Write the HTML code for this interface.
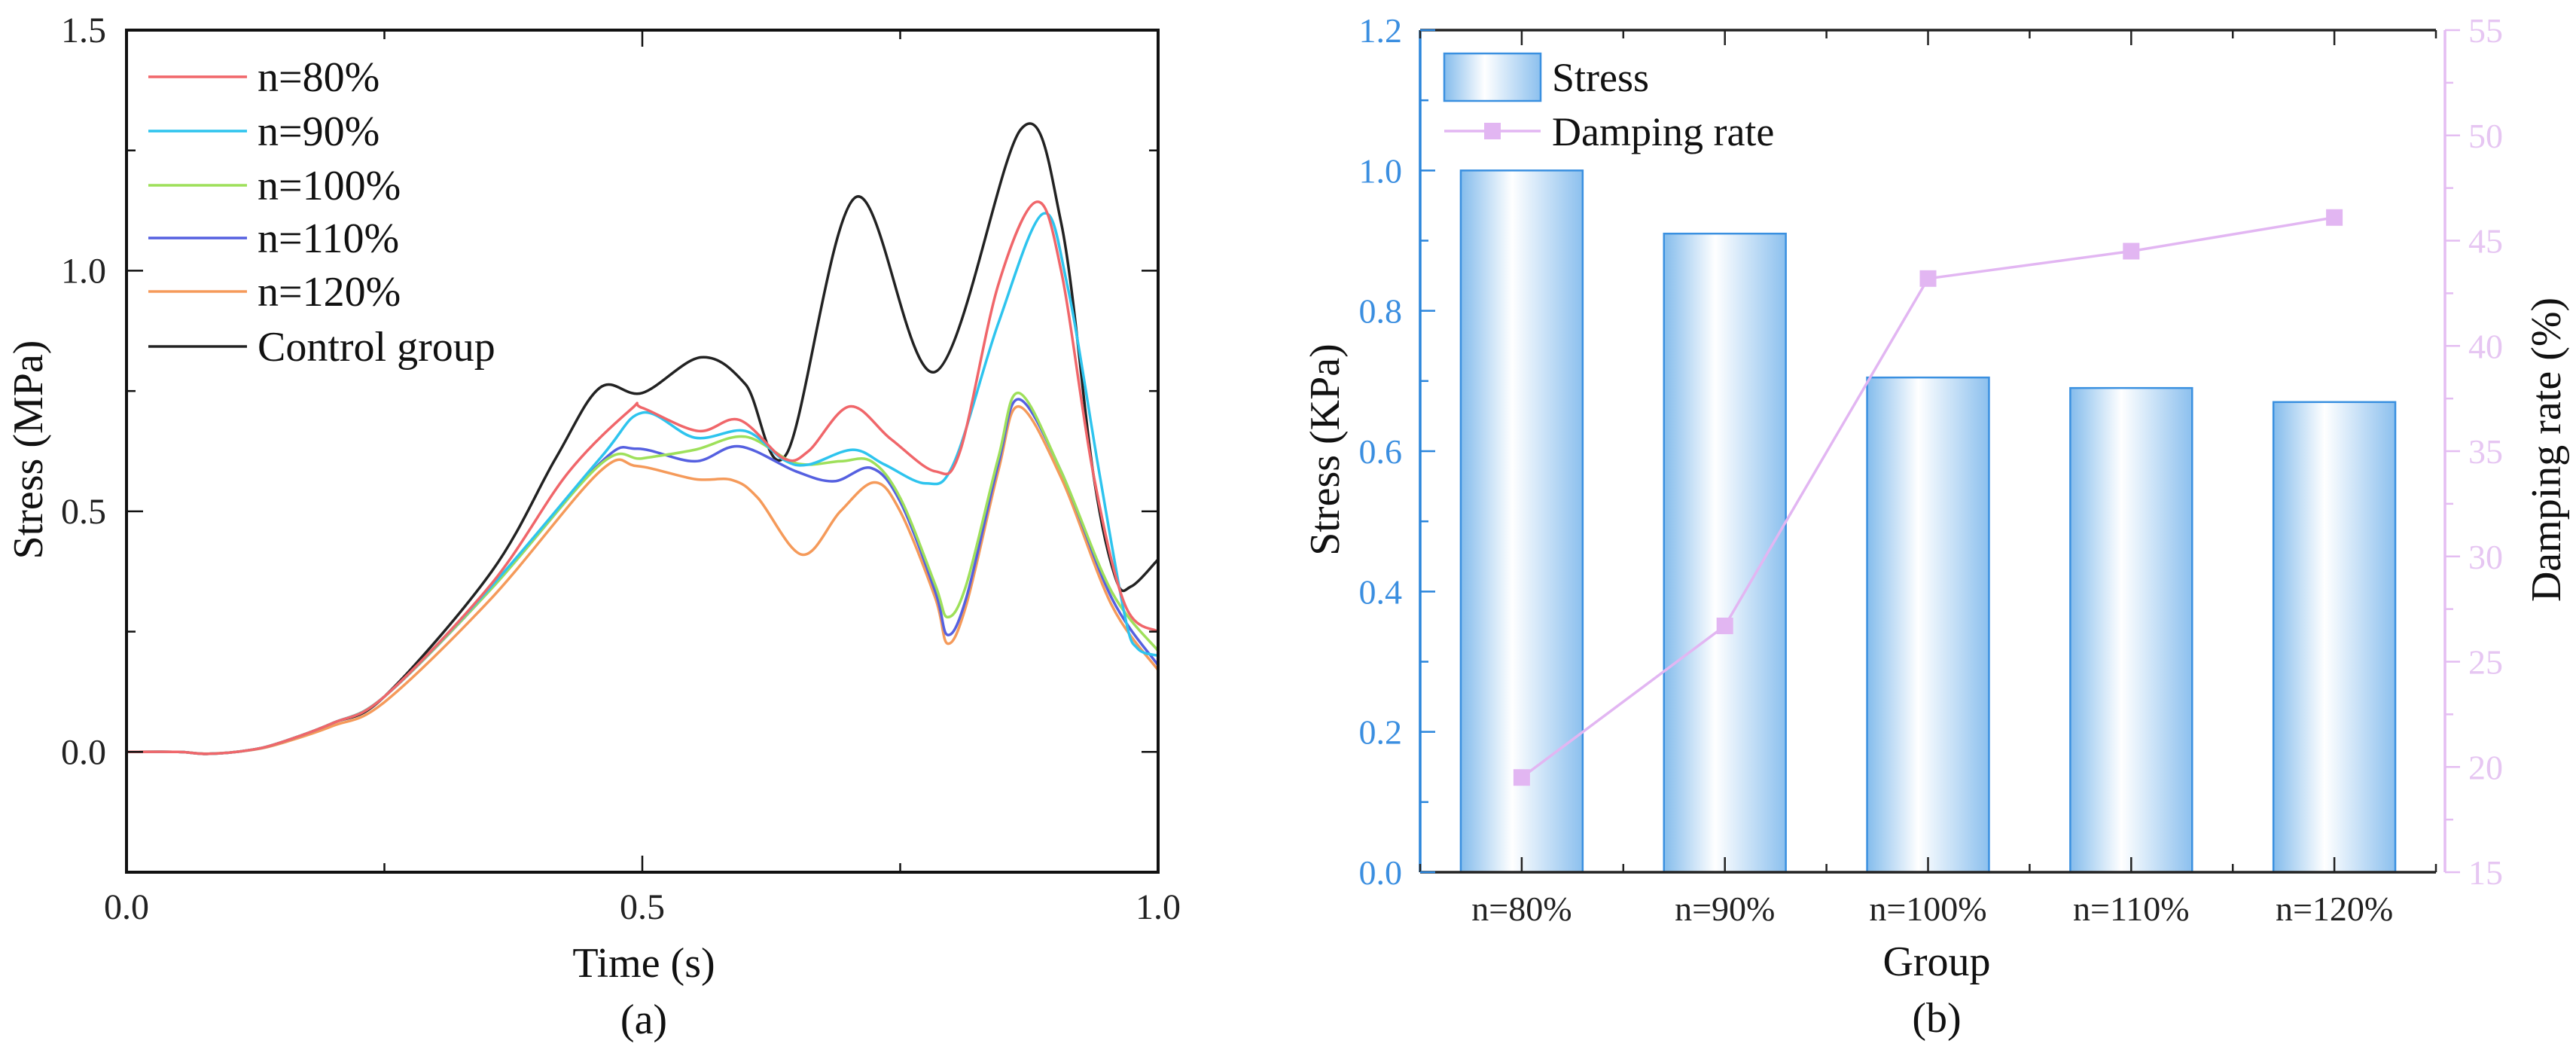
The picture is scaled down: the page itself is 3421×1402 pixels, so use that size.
<!DOCTYPE html>
<html><head><meta charset="utf-8"><style>
html,body{margin:0;padding:0;background:#fff}
svg, svg text{font-family:"Liberation Serif", serif}
</style></head><body>
<svg id="fig" width="3421" height="1397" viewBox="0 0 3421 1397" xmlns="http://www.w3.org/2000/svg" font-family="Liberation Serif, serif">
<defs>
<linearGradient id="barGrad" x1="0" x2="1" y1="0" y2="0">
<stop offset="0" stop-color="#84bcec"/><stop offset="0.42" stop-color="#ffffff"/><stop offset="1" stop-color="#8cc0ee"/>
</linearGradient>
</defs>
<g id="left" font-family="Liberation Serif, serif"></g>
<g id="right" font-family="Liberation Serif, serif"></g>
</svg>
<script>
// ---------- Left chart data ----------
const seriesNames = ["n=80%","n=90%","n=100%","n=110%","n=120%","Control group"];
const seriesColors = ["#f0666a","#2ec4ee","#9ee05a","#5560e0","#f59a5a","#222222"];
const startT = [0,0.05,0.08,0.12,0.15,0.2,0.25];
const startV = [0,0,-0.004,0.004,0.02,0.06,0.115];
const t80 = [0.354,0.428,0.489,0.5,0.554,0.594,0.637,0.661,0.701,0.741,0.784,0.808,0.845,0.882,0.906,0.937,0.968,1.0];
const v80 = [0.35,0.58,0.712,0.715,0.667,0.69,0.61,0.625,0.718,0.65,0.583,0.625,0.97,1.143,1.0,0.58,0.305,0.25];
const t90 = [0.354,0.459,0.5,0.551,0.6,0.637,0.661,0.704,0.735,0.775,0.802,0.845,0.888,0.912,0.943,0.968,0.98,1.0];
const v90 = [0.345,0.61,0.705,0.653,0.667,0.607,0.597,0.628,0.597,0.558,0.6,0.89,1.118,0.97,0.58,0.28,0.215,0.2];
const t100 = [0.354,0.459,0.5,0.551,0.6,0.649,0.692,0.722,0.75,0.784,0.796,0.814,0.845,0.865,0.906,0.955,1.0];
const v100 = [0.34,0.597,0.61,0.628,0.655,0.6,0.604,0.604,0.528,0.347,0.28,0.347,0.61,0.746,0.583,0.333,0.21];
const t110 = [0.354,0.459,0.495,0.551,0.594,0.649,0.686,0.722,0.75,0.784,0.796,0.814,0.845,0.865,0.906,0.955,1.0];
const v110 = [0.34,0.6,0.63,0.604,0.635,0.583,0.5625,0.59,0.52,0.333,0.243,0.32,0.597,0.733,0.583,0.32,0.18];
const t120 = [0.354,0.459,0.495,0.551,0.587,0.612,0.655,0.692,0.725,0.75,0.784,0.796,0.814,0.845,0.865,0.906,0.955,1.0];
const v120 = [0.32,0.583,0.594,0.567,0.565,0.528,0.41,0.5,0.56,0.5,0.32,0.225,0.305,0.583,0.718,0.57,0.305,0.17];
const tCtl = [0.354,0.416,0.459,0.5,0.557,0.6,0.64,0.707,0.784,0.867,0.906,0.937,0.959,0.974,1.0];
const vCtl = [0.375,0.61,0.757,0.746,0.82,0.764,0.62,1.153,0.79,1.294,1.10,0.58,0.36,0.344,0.40];
const xTicksA = [0,0.5,1.0];
const xTickLabelsA = ["0.0","0.5","1.0"];
const yTicksA = [0,0.5,1.0,1.5];
const yTickLabelsA = ["0.0","0.5","1.0","1.5"];

// ---------- Right chart data ----------
const groups = ["n=80%","n=90%","n=100%","n=110%","n=120%"];
const stressVals = [1.0,0.91,0.705,0.69,0.67];
const dampVals = [19.5,26.7,43.2,44.5,46.1];
const yTicksB = [0,0.2,0.4,0.6,0.8,1.0,1.2];
const yTickLabelsB = ["0.0","0.2","0.4","0.6","0.8","1.0","1.2"];
const y2Ticks = [15,20,25,30,35,40,45,50,55];
const y2TickLabels = ["15","20","25","30","35","40","45","50","55"];

const NS="http://www.w3.org/2000/svg";
const FF="Liberation Serif, serif";
function mk(parent,tag,attrs,text){const e=document.createElementNS(NS,tag);for(const k in attrs)e.setAttribute(k,attrs[k]);if(tag==='text')e.setAttribute('font-family',FF);if(text!==undefined)e.textContent=text;parent.appendChild(e);return e;}
function smoothPath(pts){let d="M"+pts[0][0].toFixed(1)+","+pts[0][1].toFixed(1);
 for(let i=0;i<pts.length-1;i++){const p0=pts[i-1]||pts[i],p1=pts[i],p2=pts[i+1],p3=pts[i+2]||p2;
  const c1x=p1[0]+(p2[0]-p0[0])/6,c1y=p1[1]+(p2[1]-p0[1])/6,c2x=p2[0]-(p3[0]-p1[0])/6,c2y=p2[1]-(p3[1]-p1[1])/6;
  d+=" C"+c1x.toFixed(1)+","+c1y.toFixed(1)+" "+c2x.toFixed(1)+","+c2y.toFixed(1)+" "+p2[0].toFixed(1)+","+p2[1].toFixed(1);}
 return d;}

// ---------- Left chart ----------
(function(){
const g=document.getElementById('left');
const X0=168,X1=1538,YT=40,YB=1158;
const xs=t=>X0+t*(X1-X0);
const ys=v=>YB-(v+0.25)/1.75*(YB-YT);
const clip=mk(g,'clipPath',{id:'clipA'});mk(clip,'rect',{x:X0,y:YT,width:X1-X0,height:YB-YT});
const T=[t80,t90,t100,t110,t120,tCtl],V=[v80,v90,v100,v110,v120,vCtl];
const order=[5,4,3,2,1,0];
order.forEach(i=>{
 const pts=[];startT.forEach((t,k)=>pts.push([xs(t),ys(startV[k]*(i===4?0.9:1))]));
 T[i].forEach((t,k)=>pts.push([xs(t),ys(V[i][k])]));
 const p=mk(g,'path',{d:smoothPath(pts),fill:'none',stroke:seriesColors[i],'stroke-width':3.5,'clip-path':'url(#clipA)'});
 
 
});
const fr=mk(g,'rect',{x:X0,y:YT,width:X1-X0,height:YB-YT,fill:'none',stroke:'#111','stroke-width':4});

[0.25,0.5,0.75].forEach(t=>{const big=t===0.5;
 mk(g,'line',{x1:xs(t),x2:xs(t),y1:YB,y2:YB-(big?22:12),stroke:'#111','stroke-width':2.5});
 mk(g,'line',{x1:xs(t),x2:xs(t),y1:YT,y2:YT+(big?22:12),stroke:'#111','stroke-width':2.5});});
[-0.25,0,0.25,0.5,0.75,1.0,1.25,1.5].forEach(v=>{const big=Math.abs(v*2-Math.round(v*2))<1e-6;
 mk(g,'line',{x1:X0,x2:X0+(big?22:12),y1:ys(v),y2:ys(v),stroke:'#111','stroke-width':2.5});
 mk(g,'line',{x1:X1,x2:X1-(big?22:12),y1:ys(v),y2:ys(v),stroke:'#111','stroke-width':2.5});});
xTicksA.forEach((t,i)=>{const e=mk(g,'text',{x:xs(t),y:1220,'font-size':48,'text-anchor':'middle',fill:'#222'},xTickLabelsA[i]);
 });
yTicksA.forEach((v,i)=>{const e=mk(g,'text',{x:141,y:ys(v)+16,'font-size':48,'text-anchor':'end',fill:'#222'},yTickLabelsA[i]);
 });
let e=mk(g,'text',{x:855,y:1297,'font-size':56,'text-anchor':'middle',fill:'#111'},'Time (s)');

e=mk(g,'text',{x:855,y:1372,'font-size':56,'text-anchor':'middle',fill:'#111'},'(a)');

e=mk(g,'text',{x:0,y:0,'font-size':56,'text-anchor':'middle',fill:'#111',transform:'translate(56,597) rotate(-90)'},'Stress (MPa)');

const rows=[102,174,246,316,387,460];
seriesNames.forEach((n,i)=>{const lg=mk(g,'g',{});
 
 mk(lg,'line',{x1:197,x2:328,y1:rows[i],y2:rows[i],stroke:seriesColors[i],'stroke-width':3.5});
 mk(lg,'text',{x:342,y:rows[i]+19,'font-size':56,fill:'#111'},n);});
})();

// ---------- Right chart ----------
(function(){
const g=document.getElementById('right');
const X0=1886,X1=3235,YT=40,YB=1158;
const band=(X1-X0)/5;
const xc=i=>X0+(i+0.5)*band;
const ys=v=>YB-v/1.2*(YB-YT);
const y2=v=>YB-(v-15)/40*(YB-YT);
const bw=band*0.6;
stressVals.forEach((v,i)=>{const r=mk(g,'rect',{x:xc(i)-bw/2,y:ys(v),width:bw,height:YB-ys(v),fill:'url(#barGrad)',stroke:'#3a90e0','stroke-width':2.5});
 });
const pts=dampVals.map((v,i)=>xc(i)+','+y2(v)).join(' ');
const pl=mk(g,'polyline',{points:pts,fill:'none',stroke:'#e2b6f2','stroke-width':3.5});

dampVals.forEach((v,i)=>{const m=mk(g,'rect',{x:xc(i)-11,y:y2(v)-11,width:22,height:22,fill:'#e2b6f2'});
 });
mk(g,'line',{x1:X0,x2:X1,y1:YT,y2:YT,stroke:'#222','stroke-width':3.5});
mk(g,'line',{x1:X0,x2:X1,y1:YB,y2:YB,stroke:'#222','stroke-width':3.5});
let ax=mk(g,'line',{x1:X0,x2:X0,y1:YT,y2:YB,stroke:'#2a85dc','stroke-width':3.5});

ax=mk(g,'line',{x1:X1+12,x2:X1+12,y1:YT,y2:YB,stroke:'#e4bdf2','stroke-width':3.5});

for(let k=0;k<=10;k++){const x=X0+k*band/2;const big=k%2===1;
 mk(g,'line',{x1:x,x2:x,y1:YB,y2:YB-(big?20:11),stroke:'#222','stroke-width':2.5});
 mk(g,'line',{x1:x,x2:x,y1:YT,y2:YT+(big?20:11),stroke:'#222','stroke-width':2.5});}
for(let v=0;v<=1.2001;v+=0.1){const big=Math.round(v*10)%2===0;
 mk(g,'line',{x1:X0,x2:X0+(big?20:11),y1:ys(v),y2:ys(v),stroke:'#2a85dc','stroke-width':2.5});}
for(let v=15;v<=55;v+=2.5){const big=v%5===0;
 mk(g,'line',{x1:X1+12,x2:X1+12+(big?20:11),y1:y2(v),y2:y2(v),stroke:'#e4bdf2','stroke-width':2.5});}
yTicksB.forEach((v,i)=>{const e=mk(g,'text',{x:1862,y:ys(v)+16,'font-size':46,'text-anchor':'end',fill:'#3a8ee0'},yTickLabelsB[i]);
 });
y2Ticks.forEach((v,i)=>{const e=mk(g,'text',{x:3278,y:y2(v)+16,'font-size':46,fill:'#e6c6f2'},y2TickLabels[i]);
 });
groups.forEach((n,i)=>{const e=mk(g,'text',{x:xc(i),y:1222,'font-size':46,'text-anchor':'middle',fill:'#222'},n);
 });
let e=mk(g,'text',{x:2572,y:1295,'font-size':56,'text-anchor':'middle',fill:'#111'},'Group');

e=mk(g,'text',{x:2572,y:1370,'font-size':56,'text-anchor':'middle',fill:'#111'},'(b)');

e=mk(g,'text',{x:0,y:0,'font-size':56,'text-anchor':'middle',fill:'#111',transform:'translate(1778,597) rotate(-90)'},'Stress (KPa)');

e=mk(g,'text',{x:0,y:0,'font-size':56,'text-anchor':'middle',fill:'#111',transform:'translate(3400,597) rotate(-90)'},'Damping rate (%)');

let lg=mk(g,'g',{});
mk(lg,'rect',{x:1918,y:71,width:128,height:63,fill:'url(#barGrad)',stroke:'#3a90e0','stroke-width':2.5});
mk(lg,'text',{x:2061,y:121,'font-size':54,fill:'#111'},'Stress');
lg=mk(g,'g',{});
mk(lg,'line',{x1:1918,x2:2046,y1:174,y2:174,stroke:'#e2b6f2','stroke-width':3.5});
mk(lg,'rect',{x:1971,y:163,width:22,height:22,fill:'#e2b6f2'});
mk(lg,'text',{x:2061,y:193,'font-size':54,fill:'#111'},'Damping rate');
})();
</script>
</body></html>
